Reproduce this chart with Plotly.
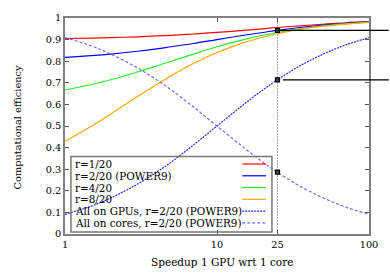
import numpy as np
import plotly.graph_objects as go

# ---- data ----
speedup = [1, 1.5, 2, 3, 4, 5, 7, 10, 15, 20, 25, 35, 50, 70, 100]
eff_r1 = [0.905, 0.907, 0.909, 0.913, 0.917, 0.920, 0.926, 0.933, 0.943, 0.950, 0.956, 0.964, 0.971, 0.978, 0.983]
eff_r2 = [0.818, 0.826, 0.833, 0.846, 0.857, 0.867, 0.882, 0.900, 0.920, 0.933, 0.943, 0.956, 0.967, 0.975, 0.982]
eff_r4 = [0.667, 0.692, 0.714, 0.750, 0.778, 0.800, 0.833, 0.867, 0.900, 0.920, 0.933, 0.950, 0.964, 0.973, 0.981]
eff_r8 = [0.429, 0.500, 0.556, 0.636, 0.692, 0.733, 0.789, 0.840, 0.886, 0.911, 0.927, 0.947, 0.962, 0.972, 0.980]
eff_gpu = [0.091, 0.130, 0.167, 0.231, 0.286, 0.333, 0.412, 0.500, 0.600, 0.667, 0.714, 0.778, 0.833, 0.875, 0.909]
eff_cores = [0.909, 0.870, 0.833, 0.769, 0.714, 0.667, 0.588, 0.500, 0.400, 0.333, 0.286, 0.222, 0.167, 0.125, 0.091]
labels = ["r=1/20", "r=2/20 (POWER9)", "r=4/20", "r=8/20",
          "All on GPUs, r=2/20 (POWER9)", "All on cores, r=2/20 (POWER9)"]
x_ticks = [1, 10, 25, 100]
y_ticks = [0, 0.1, 0.2, 0.3, 0.4, 0.5, 0.6, 0.7, 0.8, 0.9, 1]
marked_speedup = 25

colors = ["#ff0000", "#0000ff", "#22ee22", "#ffa500", "#2a2aff", "#6a6aff"]
dashes = ["solid", "solid", "solid", "solid", "2px,1px", "3px,2px"]
series = [eff_r1, eff_r2, eff_r4, eff_r8, eff_gpu, eff_cores]

FONT = "DejaVu Serif"
W, H = 390, 273
L, R, T, B = 65, 18, 14, 39
PW, PH = W - L - R, H - T - B


def px(xp):
    return (xp - L) / PW


def py(yp):
    return (H - B - yp) / PH


fig = go.Figure()

# vertical dotted guide at the marked speedup
fig.add_trace(go.Scatter(x=[marked_speedup, marked_speedup], y=[0, 1], mode="lines",
                         line=dict(color="#aaaaaa", width=1, dash="2px,1px"),
                         hoverinfo="skip", showlegend=False))

for ys, c, d in zip(series, colors, dashes):
    fig.add_trace(go.Scatter(x=speedup, y=ys, mode="lines", line_shape="spline",
                             line=dict(color=c, width=1.2, dash=d), showlegend=False))

i25 = speedup.index(marked_speedup)
mark_y = [eff_r2[i25], eff_gpu[i25], eff_cores[i25]]
fig.add_trace(go.Scatter(x=[marked_speedup] * 3, y=mark_y, mode="markers",
                         marker=dict(symbol="square", size=4, color="#444444",
                                     line=dict(color="black", width=1.2)),
                         cliponaxis=False, showlegend=False))

shapes = []
annotations = []
# connector lines to the right
shapes.append(dict(type="line", xref="paper", yref="y", x0=np.log10(marked_speedup) / 2,
                   x1=px(392), y0=eff_r2[i25], y1=eff_r2[i25],
                   line=dict(color="black", width=1.3)))
shapes.append(dict(type="line", xref="paper", yref="y", x0=px(285),
                   x1=px(392), y0=eff_gpu[i25], y1=eff_gpu[i25],
                   line=dict(color="black", width=1.3)))

# custom legend box (gnuplot style: text left, sample right)
shapes.append(dict(type="rect", xref="paper", yref="paper", x0=px(71), x1=px(274),
                   y0=py(232), y1=py(155), line=dict(color="#777777", width=1.5)))
for k, (lab, c, d) in enumerate(zip(labels, colors, dashes)):
    yc = 162.7 + 12 * k
    annotations.append(dict(xref="paper", yref="paper", x=px(74), y=py(yc), text=lab,
                            showarrow=False, xanchor="left", yanchor="middle", borderpad=0,
                            font=dict(family=FONT, size=10.4, color="black")))
    shapes.append(dict(type="line", xref="paper", yref="paper", x0=px(244), x1=px(268),
                       y0=py(yc), y1=py(yc), line=dict(color=c, width=1.2, dash=d)))

annotations.append(dict(xref="paper", yref="paper", x=px(224), y=py(263), text="Speedup 1 GPU wrt 1 core",
                        showarrow=False, xanchor="center", yanchor="middle",
                        font=dict(family=FONT, size=10.5, color="black")))
annotations.append(dict(xref="paper", yref="paper", x=px(18), y=py(125), text="Computational efficiency",
                        showarrow=False, xanchor="center", yanchor="middle", textangle=-90,
                        font=dict(family=FONT, size=9.8, color="black")))

fig.update_layout(
    width=W, height=H,
    margin=dict(l=L, r=R, t=T, b=B),
    paper_bgcolor="white", plot_bgcolor="white",
    shapes=shapes, annotations=annotations,
    font=dict(family=FONT, size=9.8, color="black"),
    xaxis=dict(type="log", range=[0, 2], tickvals=x_ticks, ticktext=[str(v) for v in x_ticks],
               showgrid=False, zeroline=False, showline=True, linecolor="#808080", linewidth=1.5,
               mirror="ticks", ticks="inside", ticklen=4, tickcolor="#555555", tickwidth=1),
    yaxis=dict(range=[0, 1], tickvals=y_ticks, showgrid=False, zeroline=False,
               showline=True, linecolor="#808080", linewidth=1.5,
               mirror="ticks", ticks="inside", ticklen=4, tickcolor="#555555", tickwidth=1),
)

fig.write_html("out.html", config={"displayModeBar": False},
               post_script="document.body.style.margin='0';")
